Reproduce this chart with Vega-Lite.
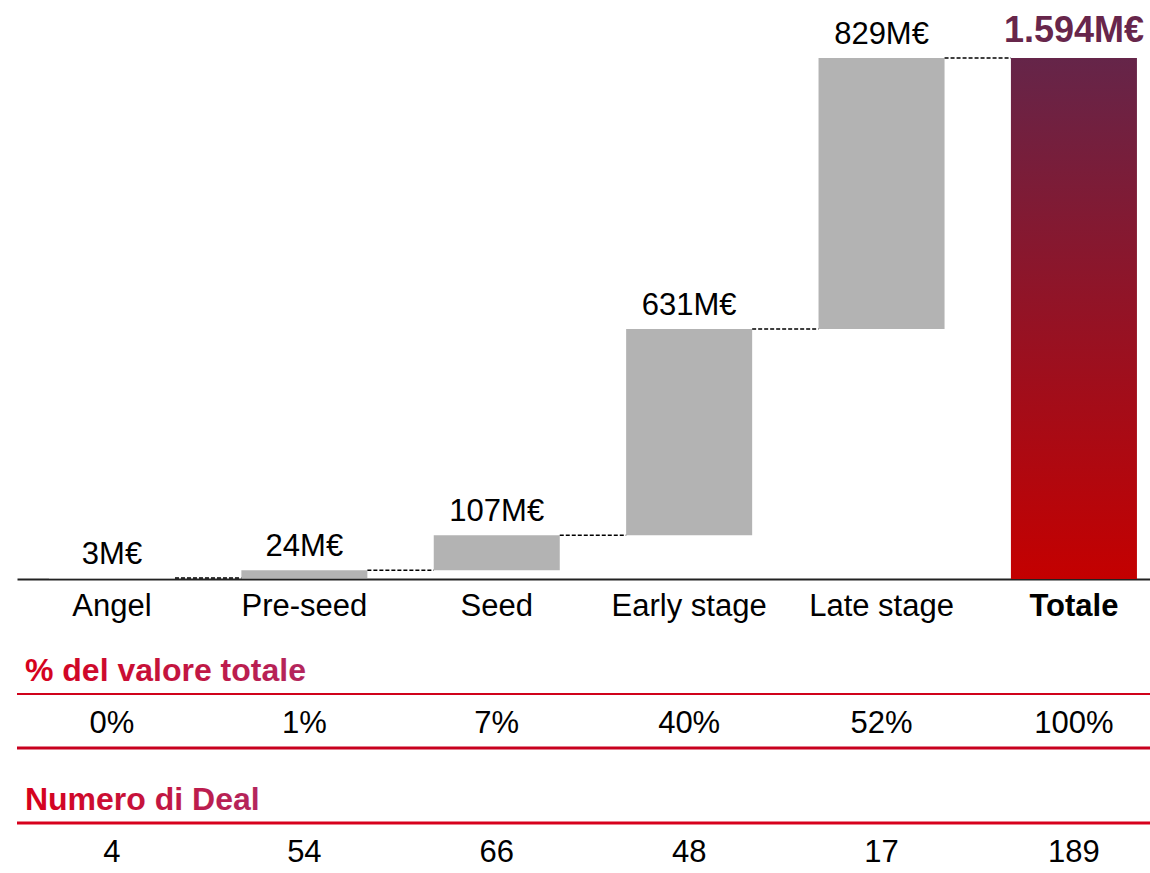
{
  "$schema": "https://vega.github.io/schema/vega-lite/v6.json",
  "padding": {"left": 15, "top": 13, "right": 0, "bottom": 0},
  "background": "white",
  "config": {"view": {"stroke": null}, "font": "Liberation Sans"},
  "datasets": {
    "stages": [
      {"fase": "Angel", "inizio": 0, "fine": 3, "etichetta": "3M€", "prossima": "Pre-seed", "quota": "0%", "deal": "4"},
      {"fase": "Pre-seed", "inizio": 3, "fine": 27, "etichetta": "24M€", "prossima": "Seed", "quota": "1%", "deal": "54"},
      {"fase": "Seed", "inizio": 27, "fine": 134, "etichetta": "107M€", "prossima": "Early stage", "quota": "7%", "deal": "66"},
      {"fase": "Early stage", "inizio": 134, "fine": 765, "etichetta": "631M€", "prossima": "Late stage", "quota": "40%", "deal": "48"},
      {"fase": "Late stage", "inizio": 765, "fine": 1594, "etichetta": "829M€", "prossima": "Totale", "quota": "52%", "deal": "17"},
      {"fase": "Totale", "inizio": 0, "fine": 1594, "etichetta": "1.594M€", "prossima": null, "quota": "100%", "deal": "189"}
    ]
  },
  "spacing": 61,
  "bounds": "flush",
  "vconcat": [
    {
      "width": 1133,
      "height": 521,
      "data": {"name": "stages"},
      "encoding": {
        "x": {
          "field": "fase", "type": "nominal",
          "scale": {"type": "band", "domain": ["Angel", "Pre-seed", "Seed", "Early stage", "Late stage", "Totale"], "paddingInner": 0.345, "paddingOuter": 0.117, "align": 0.71},
          "axis": {
            "title": null, "ticks": false, "labelAngle": 0, "labelFontSize": 31, "labelColor": "black",
            "labelPadding": 12, "domainColor": "#222222", "domainWidth": 2, "grid": false,
            "labelFontWeight": {"condition": {"test": "datum.value === 'Totale'", "value": "bold"}, "value": "normal"}
          }
        }
      },
      "layer": [
        {
          "transform": [{"filter": "datum.fase !== 'Totale'"}],
          "mark": {"type": "bar", "color": "#B3B3B3"},
          "encoding": {
            "y": {"field": "inizio", "type": "quantitative", "scale": {"domain": [0, 1594], "nice": false, "zero": true}, "axis": null},
            "y2": {"field": "fine"}
          }
        },
        {
          "transform": [{"filter": "datum.fase === 'Totale'"}],
          "mark": {"type": "bar", "color": {"gradient": "linear", "x1": 0, "y1": 0, "x2": 0, "y2": 1, "stops": [{"offset": 0, "color": "#652549"}, {"offset": 1, "color": "#C40000"}]}},
          "encoding": {
            "y": {"field": "inizio", "type": "quantitative"},
            "y2": {"field": "fine"}
          }
        },
        {
          "transform": [{"filter": "datum.prossima != null"}],
          "mark": {"type": "rule", "strokeDash": [4, 2], "strokeWidth": 1.5, "color": "black"},
          "encoding": {
            "x": {"field": "fase", "type": "nominal", "bandPosition": 1},
            "x2": {"field": "prossima", "bandPosition": 0},
            "y": {"field": "fine", "type": "quantitative"}
          }
        },
        {
          "transform": [{"filter": "datum.fase !== 'Totale'"}],
          "mark": {"type": "text", "fontSize": 31, "baseline": "alphabetic", "dy": -14, "color": "black"},
          "encoding": {
            "y": {"field": "fine", "type": "quantitative"},
            "text": {"field": "etichetta"}
          }
        },
        {
          "transform": [{"filter": "datum.fase === 'Totale'"}],
          "mark": {"type": "text", "fontSize": 36, "fontWeight": "bold", "baseline": "alphabetic", "dy": -16, "color": "#67264B"},
          "encoding": {
            "y": {"field": "fine", "type": "quantitative"},
            "text": {"field": "etichetta"}
          }
        }
      ]
    },
    {
      "spacing": 21,
      "bounds": "flush",
      "vconcat": [
        {
          "width": 1133,
          "height": 108,
          "layer": [
            {
              "data": {"name": "stages"},
              "mark": {"type": "text", "fontSize": 31, "baseline": "alphabetic", "dy": 12, "color": "black"},
              "encoding": {
                "x": {"field": "fase", "type": "nominal", "scale": {"type": "band", "domain": ["Angel", "Pre-seed", "Seed", "Early stage", "Late stage", "Totale"], "paddingInner": 0.345, "paddingOuter": 0.117, "align": 0.71}, "axis": null},
                "y": {"datum": "v", "type": "nominal", "scale": {"type": "band", "domain": ["h", "v"], "paddingInner": 0, "paddingOuter": 0}, "axis": null},
                "text": {"field": "quota"}
              }
            },
            {
              "data": {"values": [{"testo": "% del valore totale"}]},
              "mark": {"type": "text", "fontSize": 32, "fontWeight": "bold", "align": "left", "baseline": "alphabetic", "dx": -24, "dy": -13,
                "color": {"gradient": "linear", "x1": 0, "y1": 0, "x2": 1, "y2": 0, "stops": [{"offset": 0, "color": "#D7001C"}, {"offset": 1, "color": "#B3265E"}]}},
              "encoding": {
                "x": {"datum": "Angel", "type": "nominal", "bandPosition": 0},
                "y": {"datum": "h", "type": "nominal", "bandPosition": 1},
                "text": {"field": "testo"}
              }
            },
            {
              "data": {"values": [{"k": 1}]},
              "mark": {"type": "rule", "strokeWidth": 2, "color": "#D0021B"},
              "encoding": {"y": {"datum": "h", "type": "nominal", "bandPosition": 1}}
            },
            {
              "data": {"values": [{"k": 1}]},
              "mark": {"type": "rule", "strokeWidth": 3, "color": "#C8001E"},
              "encoding": {"y": {"datum": "v", "type": "nominal", "bandPosition": 1}}
            }
          ]
        },
        {
          "width": 1133,
          "height": 108,
          "layer": [
            {
              "data": {"name": "stages"},
              "mark": {"type": "text", "fontSize": 31, "baseline": "alphabetic", "dy": 12, "color": "black"},
              "encoding": {
                "x": {"field": "fase", "type": "nominal", "scale": {"type": "band", "domain": ["Angel", "Pre-seed", "Seed", "Early stage", "Late stage", "Totale"], "paddingInner": 0.345, "paddingOuter": 0.117, "align": 0.71}, "axis": null},
                "y": {"datum": "v", "type": "nominal", "scale": {"type": "band", "domain": ["h", "v"], "paddingInner": 0, "paddingOuter": 0}, "axis": null},
                "text": {"field": "deal"}
              }
            },
            {
              "data": {"values": [{"testo": "Numero di Deal"}]},
              "mark": {"type": "text", "fontSize": 32, "fontWeight": "bold", "align": "left", "baseline": "alphabetic", "dx": -24, "dy": -13,
                "color": {"gradient": "linear", "x1": 0, "y1": 0, "x2": 1, "y2": 0, "stops": [{"offset": 0, "color": "#D7001C"}, {"offset": 1, "color": "#B3265E"}]}},
              "encoding": {
                "x": {"datum": "Angel", "type": "nominal", "bandPosition": 0},
                "y": {"datum": "h", "type": "nominal", "bandPosition": 1},
                "text": {"field": "testo"}
              }
            },
            {
              "data": {"values": [{"k": 1}]},
              "mark": {"type": "rule", "strokeWidth": 3, "color": "#D7001C"},
              "encoding": {"y": {"datum": "h", "type": "nominal", "bandPosition": 1}}
            }
          ]
        }
      ]
    }
  ]
}
